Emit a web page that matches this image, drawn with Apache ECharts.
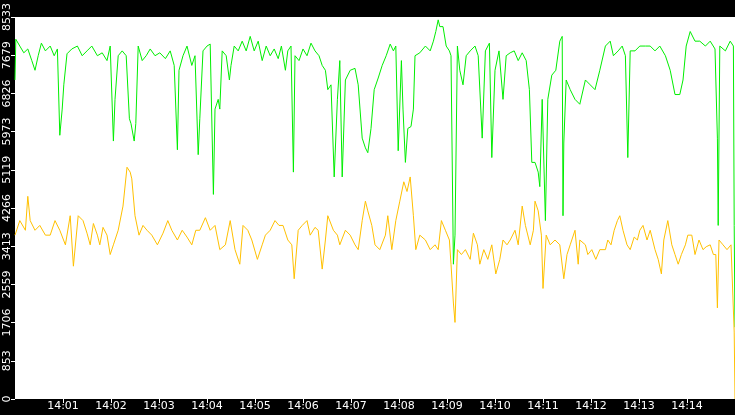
<!DOCTYPE html>
<html>
<head>
<meta charset="utf-8">
<script src="https://cdn.jsdelivr.net/npm/echarts@6/dist/echarts.min.js"></script>
<style>
  html, body { margin: 0; padding: 0; background: #000; }
  #chart { width: 735px; height: 415px; }
</style>
</head>
<body>
<div id="chart"></div>
<script>
// seconds after 14:00:00
const greenTimes = [0,1,6,11,16,21,25,29,33,38,44,49,53,56,59,61,65,71,78,84,90,96,103,109,115,119,123,125,129,134,139,143,145,149,151,154,159,164,169,175,181,188,194,199,203,205,210,215,221,225,229,231,235,240,244,248,250,254,256,259,264,268,270,274,279,284,289,294,299,304,309,314,319,324,329,333,338,341,345,348,350,355,360,365,370,375,380,384,388,391,395,399,403,406,409,413,419,425,429,434,438,441,445,449,454,459,464,469,473,476,479,483,485,488,491,495,498,500,506,513,519,523,526,529,531,535,539,543,545,548,550,553,556,560,564,569,575,579,584,588,593,596,600,605,610,614,619,624,629,634,639,643,646,650,654,656,659,663,666,671,676,681,684,685,686,689,694,700,706,713,719,725,731,738,744,748,754,759,763,766,769,775,781,788,794,800,806,813,819,825,831,835,839,844,850,856,863,869,875,878,879,881,888,894,898,899,900]
const greenValues = [7126,8036,7884,7733,7819,7559,7343,7668,7949,7776,7884,7668,7819,5891,6476,7018,7711,7819,7884,7668,7776,7884,7668,7733,7559,7884,5762,6693,7668,7776,7668,6260,6151,5762,6151,7884,7559,7668,7819,7668,7733,7603,7776,7451,5567,7343,7668,7884,7451,7668,5458,6260,7776,7884,7928,4570,6476,6693,6476,7776,7668,7126,7451,7884,7776,7993,7776,8100,7776,7993,7559,7884,7668,7819,7603,7884,7343,7776,7884,5068,7668,7559,7819,7668,7949,7776,7668,7451,7343,6910,7018,4960,6693,7559,4960,7126,7343,7386,7018,5827,5610,5502,6043,6910,7170,7451,7668,7928,7776,7884,5545,7559,6476,5285,6043,6086,6476,7668,7733,7884,7776,7993,8209,8469,8318,8318,7884,7776,7668,3011,3660,7884,7343,7018,7668,7776,7884,7668,5827,7776,7949,5393,7343,7776,6693,7668,7733,7776,7559,7733,7559,6910,5285,5285,5068,4744,6693,3985,6693,7234,7343,7993,8100,4094,5718,7126,6910,6693,6584,7126,7018,6910,7343,7884,7993,7668,7776,7884,7668,5393,7776,7776,7884,7884,7884,7776,7884,7668,7343,6801,6801,7126,7884,8209,7993,7993,7884,7993,7819,5827,3877,7884,7776,7993,7884,3877,1603]

const orangeTimes = [0,6,13,16,19,25,31,38,44,50,56,63,69,73,79,85,90,94,98,103,106,110,115,119,123,129,135,140,144,146,150,155,160,165,171,178,185,191,196,203,209,215,221,226,231,238,244,250,256,263,269,275,281,285,291,296,303,309,313,319,325,330,335,341,346,349,354,359,365,369,375,379,384,388,391,398,403,406,413,419,425,429,434,438,441,446,450,456,463,466,471,476,481,486,490,494,498,501,506,513,519,525,529,533,538,543,545,548,550,553,558,563,569,573,578,581,586,591,596,601,606,610,615,619,625,629,634,638,644,648,650,654,658,660,664,669,675,681,686,690,694,700,704,706,713,716,721,726,731,738,741,745,749,753,756,760,765,769,774,778,781,785,790,794,800,804,808,811,816,821,825,829,833,838,841,846,850,855,860,864,869,873,876,878,880,885,890,895,899,900]
const orangeValues = [3660,3985,3769,4527,3985,3769,3877,3660,3660,3985,3769,3444,4094,2967,4094,3985,3704,3444,3920,3660,3444,3834,3660,3227,3444,3769,4310,5177,5068,4917,4094,3660,3877,3769,3660,3444,3704,3985,3769,3552,3769,3617,3444,3769,3769,4050,3769,3877,3336,3444,3985,3336,3011,3877,3769,3552,3119,3444,3660,3769,3985,3877,3877,3552,3444,2686,3769,3877,3985,3660,3834,3769,2902,3552,4094,3769,3660,3444,3769,3660,3444,3336,3985,4419,4202,3877,3444,3336,3660,4094,3336,3985,4419,4852,4635,4960,4094,3336,3660,3552,3336,3444,3336,3985,3769,3552,3011,2144,1711,3336,3227,3336,3119,3704,3444,3011,3336,3119,3444,2794,3119,3552,3444,3552,3769,3444,4310,3877,3444,3769,4419,4202,3660,2469,3660,3444,3552,3444,2686,3227,3444,3769,3011,3552,3444,3227,3336,3119,3336,3336,3552,3444,3769,3985,4094,3769,3444,3336,3617,3552,3769,3877,3552,3769,3336,3119,2794,3552,3985,3444,3227,3011,3227,3444,3660,3660,3227,3552,3336,3401,3444,3227,3227,2036,3552,3444,3336,3444,1495,0]

const yMax = 8533
const yStep = 853.3

function pairs(t, v) {
    return t.map((s, i) => [s, v[i]])
}

let myChart = echarts.init(document.getElementById('chart'))
myChart.setOption({
    animation: false,
    backgroundColor: '#000',
    grid: {
        left: 15,
        right: 0,
        top: 0,
        bottom: 16,
        show: true,
        backgroundColor: '#fff',
        borderWidth: 0
    },
    xAxis: {
        type: 'value',
        min: 0,
        max: 900,
        interval: 60,
        axisLine: { show: false },
        axisTick: { show: true, length: 4, lineStyle: { color: '#fff' } },
        splitLine: { show: false },
        axisLabel: {
            color: '#fff',
            fontSize: 11,
            fontFamily: 'DejaVu Sans',
            margin: 2,
            showMinLabel: false,
            showMaxLabel: false,
            formatter: function (v) {
                const m = Math.round(v / 60)
                return '14:' + (m < 10 ? '0' + m : m)
            }
        }
    },
    yAxis: {
        type: 'value',
        min: 0,
        max: yMax,
        interval: yStep,
        axisLine: { show: false },
        axisTick: { show: true, length: 4, lineStyle: { color: '#fff' } },
        splitLine: { show: false },
        axisLabel: {
            color: '#fff',
            fontSize: 11,
            fontFamily: 'DejaVu Sans',
            rotate: 90,
            margin: 2,
            align: 'center',
            verticalAlign: 'bottom',
            formatter: function (v) { return Math.floor(v + 0.01) }
        }
    },
    series: [
        {
            type: 'line',
            data: pairs(greenTimes, greenValues),
            showSymbol: false,
            lineStyle: { color: '#00ee00', width: 1 }
        },
        {
            type: 'line',
            data: pairs(orangeTimes, orangeValues),
            showSymbol: false,
            lineStyle: { color: '#ffc000', width: 1 }
        }
    ]
})
</script>
</body>
</html>
